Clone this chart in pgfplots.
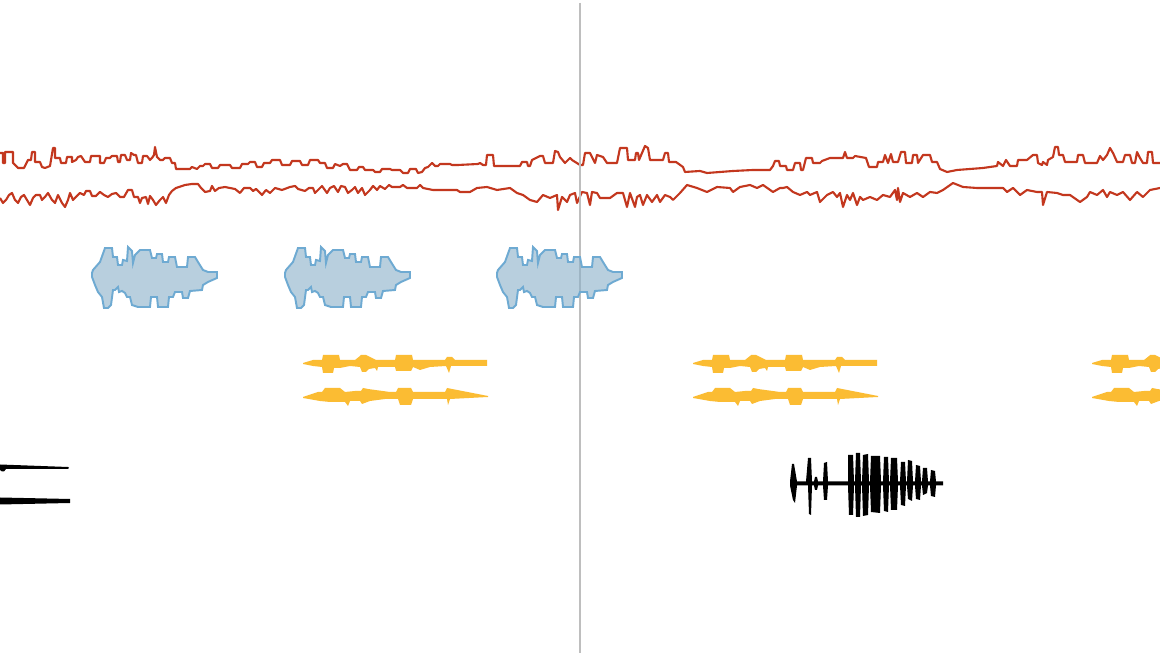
\documentclass[border=0pt]{standalone}
\usepackage{pgfplots}
\pgfplotsset{compat=1.18}
\usepackage{pgfplotstable}

\definecolor{wavered}{RGB}{195,55,30}
\definecolor{blobfill}{RGB}{137,175,200}
\definecolor{blobedge}{RGB}{110,170,210}
\definecolor{ampyellow}{RGB}{251,188,51}
\definecolor{cursorgray}{RGB}{190,190,190}

% blue clip outline (pixel coords, top edge then bottom edge back)
\pgfplotstableread{
x y
92 273
93 270
100 262
105 248
112 248
113 257
117 257
118 265
122 265
123 260
127 261
128 247
132 251
133 263
135 255
140 250
150 250
152 258
156 258
157 254
162 254
163 262
168 262
169 257
175 257
177 267
187 267
188 257
195 257
198 262
203 270
208 272
217 272
217 278
208 282
203 285
202 290
190 291
188 298
183 298
182 292
175 292
173 297
169 297
168 307
158 307
157 297
151 297
150 307
138 307
132 305
130 297
127 297
125 293
122 291
119 292
118 287
115 290
113 290
111 305
108 308
104 308
102 297
98 292
95 285
92 277
92 273
}\blobtab

% yellow clip, upper channel
\pgfplotstableread{
x y
303 363
313 360
322 360
323 355
339 355
340 360
355 360
360 356
361 355
366 355
376 360
395 360
396 355
412 355
413 360
445 360
447 357
452 357
455 360
487 360
487 366
451 366
449 373
446 366
430 367
420 370
413 367
411 371
396 371
395 367
378 367
377 371
375 368
369 369
366 372
362 372
360 367
350 366
340 368
334 368
333 373
323 373
322 367
313 366
303 364
303 363
}\yeltop

% yellow clip, lower channel
\pgfplotstableread{
x y
303 397
318 392
322 392
325 388
340 388
345 392
355 391
361 391
363 388
368 389
390 392
396 392
398 388
411 388
413 392
445 392
447 388
488 396
488 397
450 399
448 405
447 399
440 399
413 399
411 405
400 405
398 399
385 399
370 401
362 404
360 401
350 401
348 406
345 402
330 402
320 401
303 398
303 397
}\yelbot

\begin{document}
\begin{tikzpicture}
\begin{axis}[
  width=11.6cm, height=6.53cm, scale only axis,
  xmin=0, xmax=1160, ymin=0, ymax=653,
  y dir=reverse,
  axis line style={draw=none},
  ticks=none,
  axis background/.style={fill=white},
]

% red stereo waveform, upper channel
\addplot[wavered, line width=0.6pt, line join=round] coordinates {
(0,153)(3,153)(3,163)(5,163)(5,152)(13,152)(13,163)(18,168)(24,168)(28,160)(31,160)(32,152)(35,152)(35,162)(40,162)(42,167)(45,168)(50,166)(53,148)(55,148)(55,158)(60,158)(61,163)(66,163)(67,157)(72,157)(72,162)(76,160)(78,157)(81,156)(83,159)(85,162)(90,162)(91,156)(100,156)(100,163)(104,163)(106,158)(110,158)(112,156)(117,156)(118,162)(120,162)(121,155)(125,155)(127,160)(130,160)(131,153)(134,155)(136,155)(138,163)(142,163)(143,156)(147,156)(150,160)(152,158)(154,155)(155,147)(157,157)(160,160)(163,160)(165,158)(170,158)(172,163)(175,163)(176,169)(190,169)(192,167)(197,169)(200,166)(203,166)(205,164)(210,164)(212,168)(218,168)(220,165)(230,165)(232,168)(240,168)(242,164)(248,164)(250,162)(255,162)(257,167)(262,167)(264,163)(270,163)(272,160)(280,160)(282,165)(290,165)(292,161)(300,161)(302,165)(308,165)(310,160)(318,160)(320,163)(325,163)(327,168)(333,168)(335,164)(340,166)(343,164)(347,164)(350,170)(357,170)(359,167)(363,167)(365,170)(373,170)(375,172)(380,172)(382,169)(390,169)
(392,170)(400,170)(403,173)(408,173)(410,169)(416,169)(418,173)(422,172)(425,168)(428,167)(432,163)(435,166)(438,166)(440,164)(450,164)(452,165)(458,165)(478,164)(480,163)(483,165)(486,165)(487,155)(493,155)(494,166)(500,166)(520,166)(522,162)(527,162)(528,166)(530,166)(532,160)(540,156)(543,156)(545,163)(553,163)(555,151)(558,152)(560,157)(565,163)(570,158)(572,160)(580,165)(583,165)(585,153)(590,153)(595,163)(597,155)(603,157)(607,163)(617,163)(620,148)(627,148)(628,160)(635,160)(636,153)(638,153)(639,160)(645,146)(648,148)(650,160)(663,160)(665,153)(668,153)(669,162)(676,162)(683,167)(685,172)(700,171)(707,173)(720,172)(733,171)(753,170)(770,170)
(773,166)(775,161)(779,161)(780,166)(786,166)(787,170)(793,170)(795,163)(800,163)(801,170)(803,170)(806,158)(812,158)(813,163)(820,163)(822,161)(830,158)(843,158)(845,152)(847,158)(853,158)(855,156)(866,158)(869,167)(877,167)(878,162)(883,162)(885,155)(888,163)(891,154)(893,162)(898,162)(901,152)(905,152)(906,163)(912,163)(913,155)(917,155)(918,163)(923,155)(930,155)(932,162)(937,162)(940,169)(947,172)(957,170)(970,169)(983,168)(997,166)(998,162)(1003,166)(1006,160)(1010,166)(1017,166)(1018,160)(1027,160)(1033,155)(1037,155)(1038,163)(1042,165)(1043,162)(1047,165)(1048,160)(1053,157)(1055,147)(1058,147)(1059,155)(1063,155)(1065,162)(1077,162)(1078,155)(1083,155)(1085,163)(1097,163)(1100,156)(1103,160)(1107,155)(1110,148)(1113,153)(1117,162)(1123,162)(1125,155)(1130,155)(1132,163)(1135,163)(1137,152)(1140,158)(1143,163)(1147,163)(1148,152)(1152,152)(1153,163)(1160,163)
};

% red stereo waveform, lower channel
\addplot[wavered, line width=0.6pt, line join=round] coordinates {
(0,198)(3,203)(6,200)(9,195)(12,193)(15,200)(18,203)(21,197)(24,195)(27,200)(30,205)(33,198)(36,195)(40,195)(42,200)(45,197)(48,193)(52,200)(55,203)(58,195)(62,203)(65,207)(68,200)(70,193)(73,200)(76,197)(80,193)(84,195)(86,191)(90,191)(92,196)(96,196)(100,192)(104,195)(108,197)(112,194)(116,193)(120,197)(124,197)(128,190)(132,190)(134,197)(138,197)(140,203)(142,198)(146,197)(148,204)(150,196)(153,200)(156,205)(160,200)(163,197)(166,203)(169,195)(172,191)(176,188)(185,185)(192,184)(198,184)(201,188)(205,192)(210,191)(212,186)(215,191)(219,188)(225,187)(235,189)(240,193)(244,188)(250,188)(253,191)(256,189)(262,195)(266,190)(270,193)(275,188)(282,190)(290,187)(295,186)(298,189)(305,191)(309,188)(313,188)(315,193)(318,190)(322,186)(327,193)(330,188)(334,186)(338,192)(341,186)(345,187)(348,193)(352,190)(355,187)(358,193)(362,188)(365,195)(370,190)(373,186)(377,190)(380,186)(385,189)(389,185)
(392,187)(400,187)(403,185)(407,188)(417,188)(420,185)(423,188)(433,190)(457,190)(460,192)(470,192)(477,188)(487,187)(497,190)(510,188)(517,193)(523,195)(530,200)(537,202)(543,195)(550,198)(557,195)(558,210)(562,197)(567,202)(570,195)(575,193)(577,203)(582,192)(587,193)(590,205)(592,192)(597,193)(600,198)(610,198)(617,193)(623,193)(627,207)(630,193)(635,207)(637,197)(640,195)(643,205)(647,195)(652,202)(657,195)(660,202)(665,195)(670,197)(673,200)(680,193)(687,185)(697,188)(707,192)(717,187)(730,188)(733,192)(740,187)(750,185)(757,188)(763,185)(773,192)(780,188)
(783,188)(787,187)(793,192)(800,195)(807,192)(810,195)(817,192)(820,202)(827,195)(833,192)(837,197)(840,193)(843,207)(847,195)(850,200)(853,193)(857,205)(860,197)(863,200)(870,197)(877,200)(883,195)(890,197)(895,190)(897,200)(898,188)(900,202)(903,193)(910,197)(917,193)(923,197)(930,192)(937,193)(943,190)(953,183)(963,187)(977,188)(1003,188)(1007,192)(1013,188)(1020,195)(1027,190)(1037,192)(1042,192)(1043,205)(1047,192)(1057,193)(1063,195)(1070,195)(1080,202)(1087,197)(1090,192)(1097,195)(1103,190)(1107,197)(1110,192)(1117,195)(1123,192)(1130,200)(1137,192)(1143,197)(1150,190)(1160,188)
};

% cursor
\addplot[cursorgray, line width=0.6pt] coordinates {(580,3)(580,653)};

% blue clips
\addplot[draw=blobedge, line width=0.55pt, fill=blobfill, fill opacity=0.6] table[x=x, y=y] {\blobtab};
\addplot[draw=blobedge, line width=0.55pt, fill=blobfill, fill opacity=0.6] table[x expr=\thisrow{x}+193, y=y] {\blobtab};
\addplot[draw=blobedge, line width=0.55pt, fill=blobfill, fill opacity=0.6] table[x expr=\thisrow{x}+405, y=y] {\blobtab};

% yellow clips
\addplot[draw=none, fill=ampyellow] table[x=x, y=y] {\yeltop};
\addplot[draw=none, fill=ampyellow] table[x=x, y=y] {\yelbot};
\addplot[draw=none, fill=ampyellow] table[x expr=\thisrow{x}+390, y=y] {\yeltop};
\addplot[draw=none, fill=ampyellow] table[x expr=\thisrow{x}+390, y=y] {\yelbot};
\addplot[draw=none, fill=ampyellow] table[x expr=\thisrow{x}+789, y=y] {\yeltop};
\addplot[draw=none, fill=ampyellow] table[x expr=\thisrow{x}+789, y=y] {\yelbot};

% black wedges at left edge
\addplot[draw=none, fill=black] coordinates {
(0,464.5)(68,467)(69,468)(68,469)(6,469)(4,471.5)(2,471.5)(0,470)(0,464.5)};
\addplot[draw=none, fill=black] coordinates {
(0,497.5)(70,499)(70,503)(0,504.5)(0,497.5)};

% black clip
\addplot[draw=none, fill=black] coordinates {
(790,481.5)(792,464)(794,464)(797,481.5)
(806,481.5)(808,458)(811,458)(812,481.5)
(814,481.5)(815,477)(817,477)(818,481.5)
(823,481.5)(824,463)(827,462)(828,481.5)
(848,481.5)(848,455)(853,455)(854,481.5)
(855,481.5)(856,453)(860,453)(861,481.5)
(862,481.5)(863,455)(868,454)(869,481.5)
(870,481.5)(871,456)(880,456)(881,481.5)
(883,481.5)(884,457)(888,457)(889,481.5)
(890,481.5)(891,458)(897,458)(898,481.5)
(900,481.5)(901,462)(905,462)(906,481.5)
(907,481.5)(908,460)(912,461)(913,481.5)
(915,481.5)(916,465)(920,466)(921,481.5)
(922,481.5)(923,468)(927,468)(928,481.5)
(930,481.5)(931,470)(935,471)(936,481.5)
(943,481.5)(943,485.5)
(936,485.5)(935,497)(931,496)(930,485.5)
(928,485.5)(927,493)(923,495)(922,485.5)
(921,485.5)(920,500)(916,499)(915,485.5)
(913,485.5)(912,501)(908,499)(907,485.5)
(906,485.5)(905,506)(901,505)(900,485.5)
(898,485.5)(897,510)(891,510)(890,485.5)
(889,485.5)(888,512)(884,511)(883,485.5)
(881,485.5)(880,513)(871,512)(870,485.5)
(869,485.5)(868,515)(863,516)(862,485.5)
(861,485.5)(860,517)(856,517)(855,485.5)
(854,485.5)(853,515)(849,515)(848,485.5)
(828,485.5)(827,500)(824,500)(823,485.5)
(818,485.5)(817,490)(815,490)(814,485.5)
(812,485.5)(811,515)(809,514)(808,485.5)
(797,485.5)(795,503)(793,500)(790,485.5)(790,481.5)
};

\end{axis}
\end{tikzpicture}
\end{document}
